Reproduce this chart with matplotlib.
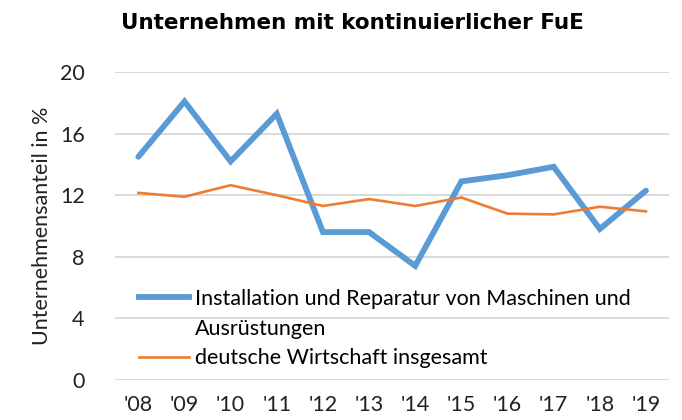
import matplotlib.pyplot as plt
from matplotlib.lines import Line2D

# Daten
jahre = ["'08", "'09", "'10", "'11", "'12", "'13", "'14", "'15", "'16", "'17", "'18", "'19"]
reparatur = [14.5, 18.1, 14.2, 17.3, 9.6, 9.6, 7.4, 12.9, 13.3, 13.85, 9.8, 12.3]
gesamt = [12.15, 11.9, 12.65, 12.0, 11.3, 11.75, 11.3, 11.85, 10.8, 10.75, 11.25, 10.95]
yticks = [0, 4, 8, 12, 16, 20]

label_rep = "Installation und Reparatur von Maschinen und"
label_rep2 = "Ausrüstungen"
label_ges = "deutsche Wirtschaft insgesamt"

blau = '#5B9BD5'
orange = '#ED7D31'

plt.rcParams['font.family'] = ['Lato', 'DejaVu Sans']

fig = plt.figure(figsize=(6.82, 4.2), dpi=100)
ax = fig.add_axes([0.169, 0.0962, 0.812, 0.7317])

x = list(range(len(jahre)))
ax.plot(x, reparatur, color=blau, lw=4.2, solid_capstyle='round', solid_joinstyle='miter', zorder=3)
ax.plot(x, gesamt, color=orange, lw=1.9, zorder=3)

ax.set_xlim(-0.5, len(jahre) - 0.5)
ax.set_ylim(0, 20)
ax.set_yticks(yticks)
ax.set_xticks(x)
ax.set_xticklabels(jahre)
ax.tick_params(axis='both', length=0, labelsize=15.5, colors='#222222')
ax.tick_params(axis='x', pad=11)
ax.tick_params(axis='y', pad=22)
ax.grid(axis='y', color='#D9D9D9', lw=1.4)
ax.set_axisbelow(True)
for s in ax.spines.values():
    s.set_visible(False)

ax.set_ylabel('Unternehmensanteil in %', fontsize=15.5, color='#222222', labelpad=6)

fig.suptitle('Unternehmen mit kontinuierlicher FuE', x=0.517, y=0.968,
             fontsize=15.5, fontweight='bold', family='DejaVu Sans')

# Legende: zweite Zeile ohne Linie fuer den Umbruch
handles = [Line2D([], [], color=blau, lw=4.2),
           Line2D([], [], color='none'),
           Line2D([], [], color=orange, lw=1.9)]
ax.legend(handles, [label_rep, label_rep2, label_ges], loc='lower left',
          bbox_to_anchor=(0.02, -0.005), frameon=False, fontsize=15.5,
          handlelength=2.3, handletextpad=0.3, labelspacing=0.45,
          borderaxespad=0.2)

fig.savefig('out.png', dpi=100)
